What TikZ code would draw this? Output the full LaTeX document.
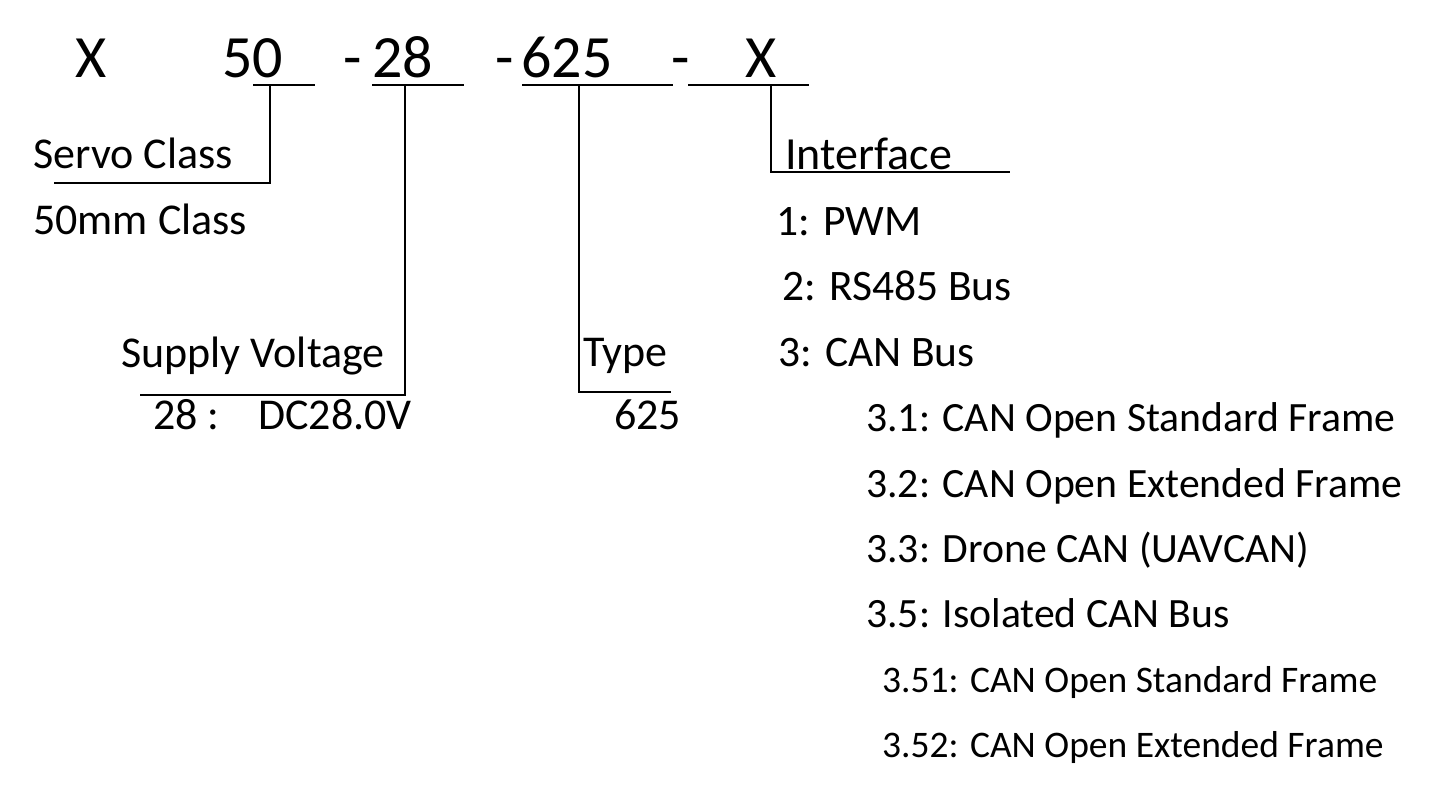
\documentclass[tikz,border=0pt]{standalone}
\usepackage{fontspec}
\setmainfont{Carlito}
\begin{document}
\begin{tikzpicture}[x=1pt,y=-1pt,
  big/.style={anchor=base west,inner sep=0pt,font=\fontsize{60}{66}\selectfont},
  lab/.style={anchor=base west,inner sep=0pt,font=\frenchspacing\fontsize{44}{50}\selectfont},
  ifc/.style={anchor=base west,inner sep=0pt,font=\fontsize{46}{52}\selectfont},
  itm/.style={anchor=base west,inner sep=0pt,font=\nonfrenchspacing\fontsize{43.5}{50}\selectfont},
  sub/.style={anchor=base west,inner sep=0pt,font=\nonfrenchspacing\fontsize{41.7}{48}\selectfont},
  sml/.style={anchor=base west,inner sep=0pt,font=\nonfrenchspacing\fontsize{37.5}{45}\selectfont},
  ln/.style={line width=2.8pt,line cap=rect}]
\useasboundingbox (0,0) rectangle (1441,797);
% top row
\node[big] (tX) at (75,78) {X};
\node[big] (t50) at (222,78) {50};
\node[big] (d1) at (343,78) {-};
\node[big] (t28) at (372,78) {28};
\node[big] (d2) at (495,78) {-};
\node[big] (t625) at (521,78) {625};
\node[big] (d3) at (671,78) {-};
\node[big] (tX2) at (745,78) {X};
% underline coordinates
\coordinate (u50a) at (254,85); \coordinate (u50b) at (314,85);
\coordinate (u28a) at (373,85); \coordinate (u28b) at (463,85);
\coordinate (u625a) at (523,85); \coordinate (u625b) at (672,85);
\coordinate (uXa) at (689,85); \coordinate (uXb) at (808,85);
\draw[ln] (u50a) -- (u50b);
\draw[ln] (u28a) -- (u28b);
\draw[ln] (u625a) -- (u625b);
\draw[ln] (uXa) -- (uXb);
% labels
\node[lab] (servo) at (33,169) {Servo Class};
\node[lab] (mm50) at (33,234) {50mm Class};
\node[lab] (supply) at (121,367) {Supply Voltage};
\node[lab] (v28) at (153,429) {28 :};
\node[lab] (dc) at (258,429) {DC28.0V};
\node[lab] (type) at (583,366) {Type};
\node[lab] (v625) at (614,429) {625};
\node[ifc] (iface) at (785,170) {Interface};
\node[itm] (i1) at (776,235) {1: PWM};
\node[itm] (i2) at (782,300) {2: RS485 Bus};
\node[itm] (i3) at (778,366) {3: CAN Bus};
\node[sub] (i31) at (866,431) {3.1: CAN Open Standard Frame};
\node[sub] (i32) at (866,497) {3.2: CAN Open Extended Frame};
\node[sub] (i33) at (866,562) {3.3: Drone CAN (UAVCAN)};
\node[sub] (i35) at (866,627) {3.5: Isolated CAN Bus};
\node[sml] (i351) at (882,692) {3.51: CAN Open Standard Frame};
\node[sml] (i352) at (882,757) {3.52: CAN Open Extended Frame};
% connectors
\coordinate (c50) at (270,85); \coordinate (e50) at (54,183);
\coordinate (c28) at (405,85); \coordinate (e28) at (140,395);
\coordinate (c625) at (579,85); \coordinate (e625) at (671,392);
\coordinate (cX) at (771,85); \coordinate (eX) at (1010,172);
\draw[ln,line cap=butt] (c50) |- (e50);
\draw[ln,line cap=butt] (c28) |- (e28);
\draw[ln,line cap=butt] (c625) |- (e625);
\draw[ln,line cap=butt] (cX) |- (eX);
\end{tikzpicture}
\end{document}
